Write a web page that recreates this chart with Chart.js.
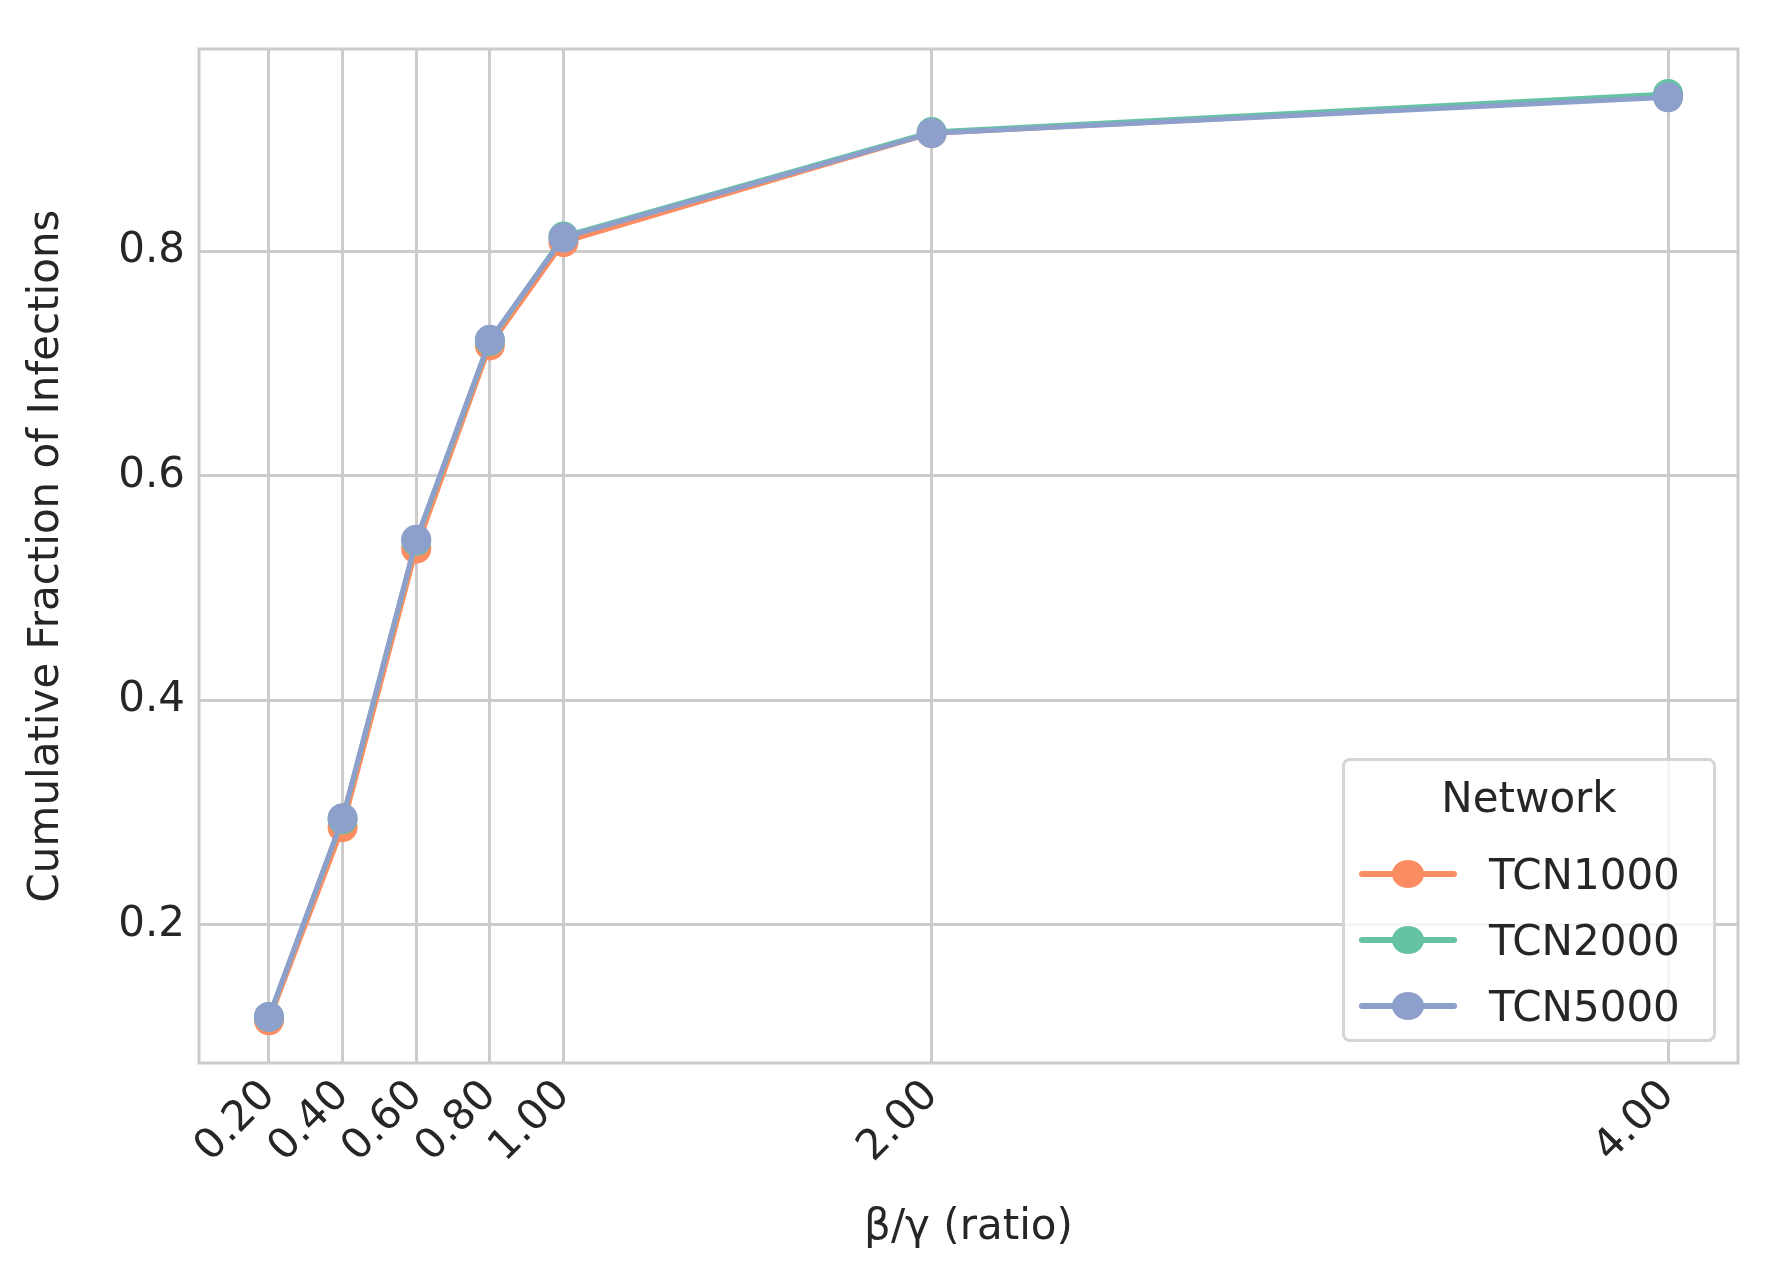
<!DOCTYPE html>
<html>
<head>
<meta charset="utf-8">
<script src="https://cdn.jsdelivr.net/npm/chart.js@4"></script>
<style>
  body { margin: 0; background: white; font-family: "DejaVu Sans", sans-serif; }
  #wrap { position: relative; width: 1768px; height: 1277px; }
  #legend { position: absolute; left: 1342px; top: 758px; width: 374px; height: 284px;
            border: 3px solid #d5d5d5; border-radius: 8px; background: rgba(255,255,255,0.8);
            box-sizing: border-box; color: #262626; font-size: 42px; }
  #legend .title { text-align: center; margin-top: 12px; height: 68px; }
  #legend .row { display: flex; align-items: center; height: 66px; }
  #legend .sw { position: relative; width: 98px; height: 20px; margin-left: 14px; margin-right: 32px; }
  #legend .sw .ln { position: absolute; left: 0; right: 0; top: 7px; height: 6px; border-radius: 3px; }
  #legend .sw .dot { position: absolute; left: 33px; top: -4px; width: 32px; height: 28px; border-radius: 50%; }
</style>
</head>
<body>
<div id="wrap">
  <canvas id="c" width="1768" height="1277"></canvas>
  <div id="legend"></div>
</div>
<script>
// beta/gamma ratios
const ratios = [0.2, 0.4, 0.6, 0.8, 1.0, 2.0, 4.0];
const seriesNames = ['TCN1000', 'TCN2000', 'TCN5000'];
const tcn1000 = [0.115, 0.287, 0.535, 0.716, 0.808, 0.905, 0.938];
const tcn2000 = [0.118, 0.294, 0.542, 0.720, 0.813, 0.906, 0.940];
const tcn5000 = [0.118, 0.295, 0.543, 0.721, 0.812, 0.905, 0.937];
const yTicks = [0.2, 0.4, 0.6, 0.8];
const colors = ['#fc8d62', '#66c2a5', '#8da0cb'];

const values = [tcn1000, tcn2000, tcn5000];
// chart.js paints dataset 0 on top, so feed them last-first
const datasets = seriesNames.map((name, i) => ({
    label: name,
    data: ratios.map((x, j) => ({ x: x, y: values[i][j] })),
    borderColor: colors[i],
    backgroundColor: colors[i],
    borderWidth: 5,
    pointRadius: 15,
    pointHoverRadius: 15,
    pointBorderWidth: 0
})).reverse();

// legend as html
const leg = document.getElementById('legend');
leg.innerHTML = '<div class="title">Network</div>' + seriesNames.map((n, i) =>
    `<div class="row"><div class="sw"><div class="ln" style="background:${colors[i]}"></div>` +
    `<div class="dot" style="background:${colors[i]}"></div></div><span>${n}</span></div>`).join('');

const frame = {
    id: 'frame',
    beforeDatasetsDraw (chart) {
        const a = chart.chartArea, ctx = chart.ctx;
        ctx.save();
        ctx.strokeStyle = '#cccccc';
        ctx.lineWidth = 3;
        ctx.strokeRect(a.left, a.top, a.right - a.left, a.bottom - a.top);
        ctx.restore();
    }
};

const font = { family: 'DejaVu Sans', size: 42 };
new Chart(document.getElementById('c'), {
    type: 'line',
    data: { datasets: datasets },
    plugins: [frame],
    options: {
        responsive: false,
        animation: false,
        layout: { padding: { top: 49, right: 30, left: 22, bottom: 0 } },
        plugins: { legend: { display: false }, tooltip: { enabled: false } },
        scales: {
            x: {
                type: 'linear', min: 0.01, max: 4.19,
                afterBuildTicks: ax => { ax.ticks = ratios.map(v => ({ value: v })); },
                afterFit: ax => { ax.height = 214; },
                ticks: { color: '#262626', font: font, minRotation: 45, maxRotation: 45,
                         callback: v => v.toFixed(2), padding: 8 },
                grid: { color: '#cccccc', lineWidth: 3, drawTicks: false },
                border: { display: false },
                title: { display: true, text: 'β/γ (ratio)', color: '#262626', font: font, padding: { top: 0, bottom: 24 } }
            },
            y: {
                min: 0.077, max: 0.98,
                afterBuildTicks: ax => { ax.ticks = yTicks.map(v => ({ value: v })); },
                afterFit: ax => { ax.width = 177; },
                ticks: { color: '#262626', font: font, callback: v => v.toFixed(1), padding: 14 },
                grid: { color: '#cccccc', lineWidth: 3, drawTicks: false },
                border: { display: false },
                title: { display: true, text: 'Cumulative Fraction of Infections', color: '#262626', font: font, padding: 0 }
            }
        }
    }
});
</script>
</body>
</html>
